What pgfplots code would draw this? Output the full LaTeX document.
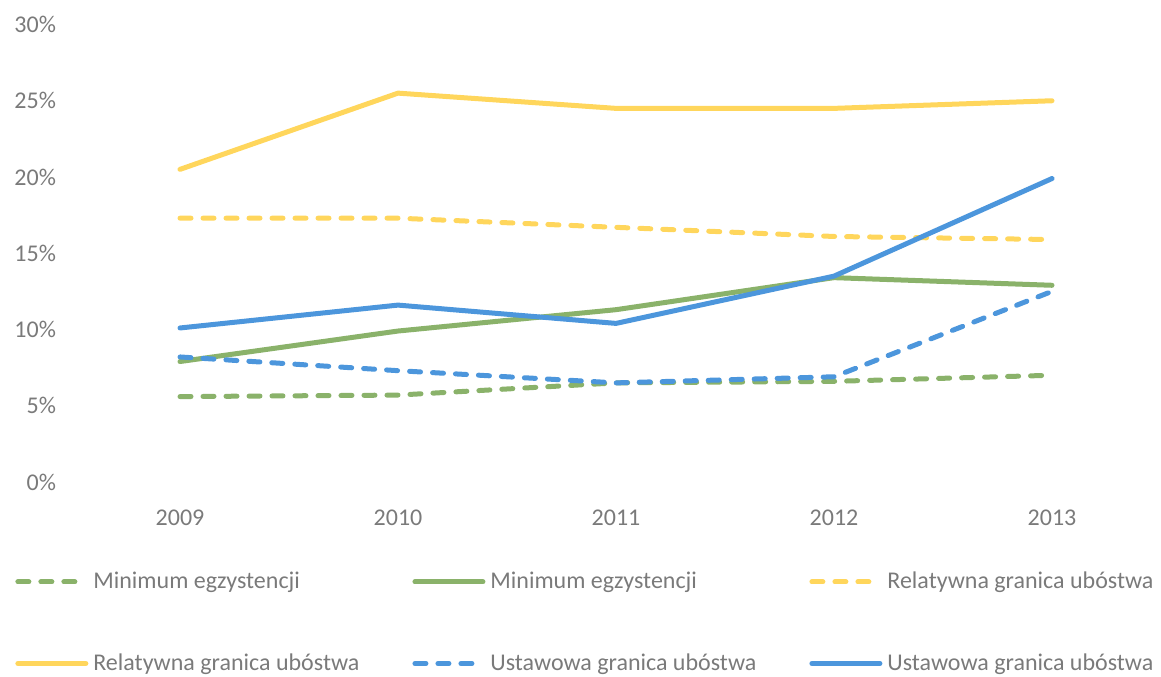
\documentclass[border=0pt]{standalone}
\usepackage{fontspec}
\setmainfont{Carlito}
\usepackage{pgfplots}
\pgfplotsset{compat=1.18}
\definecolor{cyellow}{RGB}{255,214,92}
\definecolor{cgreen}{RGB}{138,178,106}
\definecolor{cblue}{RGB}{76,150,220}
\definecolor{textgray}{RGB}{122,122,122}
\begin{document}
\begin{tikzpicture}
\useasboundingbox (0,0) rectangle (580.5pt,338pt);
\begin{axis}[
  at={(35.5pt,97pt)}, anchor=south west,
  scale only axis, width=545pt, height=228.75pt,
  xmin=-0.5, xmax=4.5, ymin=0, ymax=30,
  axis line style={draw=none},
  major tick length=0pt,
  xtick={0,1,2,3,4},
  xticklabels={2009,2010,2011,2012,2013},
  ytick={0,5,10,15,20,25,30},
  yticklabels={0\%,5\%,10\%,15\%,20\%,25\%,30\%},
  tick label style={font=\fontsize{12}{14}\selectfont, text=textgray},
  xticklabel shift=10.5pt,
  yticklabel shift=4pt,
  clip=false,
  legend columns=3,
  legend cell align=left,
  legend image code/.code={\draw[#1] (0pt,0pt) -- (34pt,0pt);},
  legend style={draw=none, fill=none, inner sep=0pt, at={(-0.0514,-0.185)}, anchor=north west,
    font=\fontsize{12}{14}\selectfont, text=textgray,
    nodes={inner sep=2.5pt},
    /tikz/every even column/.append style={column sep=24pt},
    row sep=26pt},
  every axis plot/.append style={line width=2.5pt, line cap=round, line join=round},
]
\addplot[cgreen, dash pattern=on 5.5pt off 6pt] coordinates {(0,5.6) (1,5.7) (2,6.5) (3,6.6) (4,7.0)};
\addlegendentry{Minimum egzystencji}
\addplot[cgreen] coordinates {(0,7.9) (1,9.9) (2,11.3) (3,13.4) (4,12.9)};
\addlegendentry{Minimum egzystencji}
\addplot[cyellow, dash pattern=on 5.5pt off 6pt] coordinates {(0,17.3) (1,17.3) (2,16.7) (3,16.1) (4,15.9)};
\addlegendentry{Relatywna granica ubóstwa}
\addplot[cyellow] coordinates {(0,20.5) (1,25.5) (2,24.5) (3,24.5) (4,25.0)};
\addlegendentry{Relatywna granica ubóstwa}
\addplot[cblue, dash pattern=on 5.5pt off 6pt] coordinates {(0,8.2) (1,7.3) (2,6.5) (3,6.9) (4,12.5)};
\addlegendentry{Ustawowa granica ubóstwa}
\addplot[cblue] coordinates {(0,10.1) (1,11.6) (2,10.4) (3,13.5) (4,19.9)};
\addlegendentry{Ustawowa granica ubóstwa}
\end{axis}
\end{tikzpicture}
\end{document}
